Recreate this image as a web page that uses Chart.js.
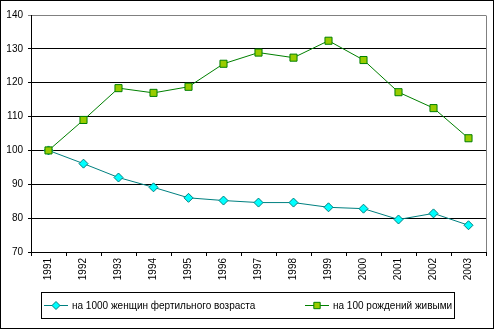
<!DOCTYPE html>
<html>
<head>
<meta charset="utf-8">
<script src="https://cdn.jsdelivr.net/npm/chart.js@4/dist/chart.umd.min.js"></script>
<style>
  body { margin: 0; background: #fff; }
  #wrap { width: 495px; height: 330px; }
</style>
</head>
<body>
<div id="wrap"><canvas id="chart" width="495" height="330"></canvas></div>
<script>
const years = ["1991", "1992", "1993", "1994", "1995", "1996", "1997", "1998", "1999", "2000", "2001", "2002", "2003"];
const perWomen = [100, 96.1, 92.0, 89.1, 86.0, 85.2, 84.6, 84.6, 83.2, 82.8, 79.6, 81.4, 77.9];
const perBirths = [100, 109.0, 118.4, 117.0, 118.8, 125.6, 128.9, 127.4, 132.4, 126.7, 117.2, 112.5, 103.6];
const seriesNames = ["на 1000 женщин фертильного возраста", "на 100 рождений живыми"];

const FONT = "'Liberation Sans', Arial, sans-serif";

// frame round the whole picture + grey right edge of plot
const framePlugin = {
  id: "frame",
  beforeDraw(chart) {
    const c = chart.ctx;
    c.save();
    c.fillStyle = "#fff";
    c.fillRect(0, 0, chart.width, chart.height);
    c.restore();
  },
  afterDraw(chart) {
    const c = chart.ctx;
    const a = chart.chartArea;
    c.save();
    c.strokeStyle = "#808080";
    c.lineWidth = 1;
    c.beginPath();
    c.moveTo(Math.round(a.right) + 0.5, Math.round(a.top) + 0.5);
    c.lineTo(Math.round(a.right) + 0.5, Math.round(a.bottom));
    c.stroke();
    c.strokeStyle = "#000";
    c.strokeRect(0.5, 0.5, 493, 328);
    c.restore();
  }
};

// legend in a box under the axis
const boxLegend = {
  id: "boxLegend",
  afterDraw(chart) {
    const c = chart.ctx;
    c.save();
    c.strokeStyle = "#000";
    c.lineWidth = 1;
    c.strokeRect(41.5, 292.5, 413, 26);
    const items = [{ x: 44, ds: chart.data.datasets[0] }, { x: 305, ds: chart.data.datasets[1] }];
    const y = 305.5;
    c.font = "10px " + FONT;
    c.textBaseline = "middle";
    c.fillStyle = "#000";
    items.forEach(it => {
      c.strokeStyle = it.ds.borderColor;
      c.beginPath();
      c.moveTo(it.x, y);
      c.lineTo(it.x + 24, y);
      c.stroke();
      c.fillStyle = it.ds.pointBackgroundColor;
      c.strokeStyle = it.ds.pointBorderColor;
      Chart.helpers.drawPoint(c, { pointStyle: it.ds.pointStyle, radius: it.ds.pointRadius - 0.5, borderWidth: 1 }, it.x + 12, y);
      c.fillStyle = "#000";
      c.fillText(it.ds.label, it.x + 28, y + 0.5);
    });
    c.restore();
  }
};

const ctx = document.getElementById("chart").getContext("2d");

new Chart(ctx, {
  type: "line",
  data: {
    labels: years,
    datasets: [{
      label: seriesNames[0],
      data: perWomen,
      borderColor: "#008080",
      borderWidth: 1,
      pointStyle: "rectRot",
      pointRadius: 4.5,
      pointBackgroundColor: "#00FFFF",
      pointBorderColor: "#008080",
      pointBorderWidth: 1,
      tension: 0,
      order: 1
    }, {
      label: seriesNames[1],
      data: perBirths,
      borderColor: "#008000",
      borderWidth: 1,
      pointStyle: "rect",
      pointRadius: 5,
      pointBackgroundColor: "#99CC00",
      pointBorderColor: "#008000",
      pointBorderWidth: 1,
      tension: 0,
      order: 0
    }]
  },
  options: {
    responsive: false,
    animation: false,
    devicePixelRatio: 1,
    layout: { padding: { top: 15, right: 9, bottom: 38, left: 0 } },
    plugins: {
      legend: { display: false },
      tooltip: { enabled: false }
    },
    scales: {
      x: {
        offset: true,
        grid: { offset: true, drawOnChartArea: false, drawTicks: true, tickLength: 4, color: "#000" },
        border: { color: "#000", width: 1 },
        ticks: {
          color: "#000",
          font: { family: FONT, size: 10 },
          minRotation: 90,
          maxRotation: 90,
          padding: 2,
          autoSkip: false
        },
        afterFit: scale => { scale.height = 40; }
      },
      y: {
        min: 70,
        max: 140,
        grid: {
          color: c => (c.tick && c.tick.value === 140) ? "#808080" : "#000",
          tickLength: 3,
          drawTicks: true
        },
        border: { color: "#000", width: 1 },
        ticks: {
          stepSize: 10,
          color: "#000",
          font: { family: FONT, size: 10 },
          padding: 5
        },
        afterFit: scale => { scale.width = 31; }
      }
    }
  },
  plugins: [framePlugin, boxLegend]
});
</script>
</body>
</html>
